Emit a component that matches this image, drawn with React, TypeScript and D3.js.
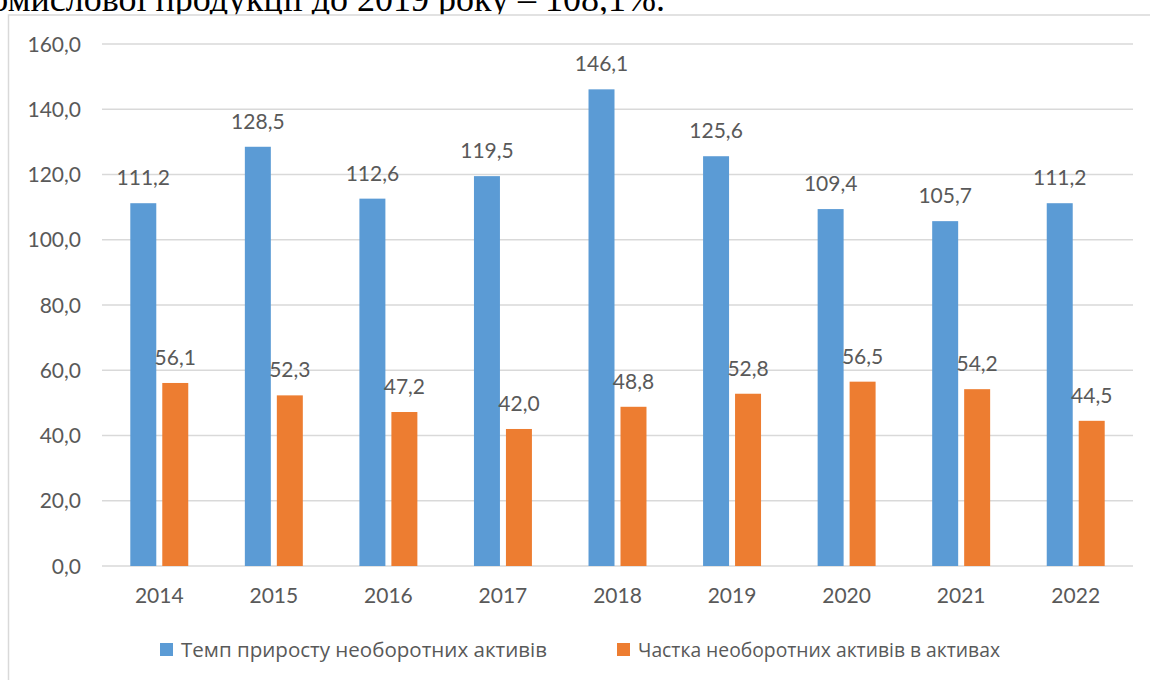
import React from "react";
import * as d3 from "d3";

const years = ["2014", "2015", "2016", "2017", "2018", "2019", "2020", "2021", "2022"];
const growthRate = [111.2, 128.5, 112.6, 119.5, 146.1, 125.6, 109.4, 105.7, 111.2];
const shareOfAssets = [56.1, 52.3, 47.2, 42.0, 48.8, 52.8, 56.5, 54.2, 44.5];
const seriesNames = ["Темп приросту необоротних активів", "Частка необоротних активів в активах"];
const seriesColors = ["#5b9bd5", "#ed7d31"];
const yTicks = [0, 20, 40, 60, 80, 100, 120, 140, 160];
const headerText = "промислової продукції до 2019 року – 108,1%.";

const fmt = (v: number) => v.toFixed(1).replace(".", ",");

export default function App() {
  const W = 1150;
  const H = 680;
  const plotLeft = 102;
  const plotRight = 1133;
  const plotTop = 44;
  const plotBottom = 566;

  const y = d3.scaleLinear().domain([0, 160]).range([plotBottom, plotTop]);
  const x0 = d3
    .scaleBand<string>()
    .domain(years)
    .range([plotLeft, plotRight])
    .paddingInner(0.494)
    .paddingOuter(0.247);
  const x1 = d3
    .scaleBand<string>()
    .domain(["a", "b"])
    .range([0, x0.bandwidth()])
    .paddingInner(0.1875);

  const series = [growthRate, shareOfAssets];
  const keys = ["a", "b"];
  const numFont = "Lato, 'Open Sans', sans-serif";
  const txtColor = "#595959";
  const legendX = [160, 617];
  const legendLen = [366, 362];

  return (
    <svg
      width={W}
      height={H}
      style={{ position: "absolute", left: 0, top: 0, background: "#fff" }}
    >
      <text
        x={665}
        y={10.5}
        textAnchor="end"
        fontFamily="'Liberation Serif', 'Times New Roman', serif"
        fontSize={36}
        fill="#000"
      >
        {headerText}
      </text>
      <rect x={8.5} y={15} width={1200} height={700} fill="#fff" stroke="#d9d9d9" strokeWidth={1.5} />

      {yTicks.map((t) => (
        <g key={t}>
          <line x1={plotLeft} x2={plotRight} y1={y(t)} y2={y(t)} stroke="#d9d9d9" strokeWidth={1.5} />
          <text
            x={81}
            y={y(t)}
            dy="0.36em"
            textAnchor="end"
            fontFamily={numFont}
            fontSize={21}
            fill={txtColor}
          >
            {fmt(t)}
          </text>
        </g>
      ))}

      {years.map((yr, i) => (
        <g key={yr} transform={`translate(${x0(yr)},0)`}>
          {series.map((s, si) => {
            const v = s[i];
            const bx = x1(keys[si])!;
            const bw = x1.bandwidth();
            return (
              <g key={si}>
                <rect x={bx} y={y(v)} width={bw} height={y(0) - y(v)} fill={seriesColors[si]} />
                <text
                  x={bx + bw / 2}
                  y={y(v) - 18}
                  textAnchor="middle"
                  fontFamily={numFont}
                  fontSize={21}
                  fill={txtColor}
                >
                  {fmt(v)}
                </text>
              </g>
            );
          })}
          <text
            x={x0.bandwidth() / 2}
            y={603}
            textAnchor="middle"
            fontFamily={numFont}
            fontSize={21}
            fill={txtColor}
          >
            {yr}
          </text>
        </g>
      ))}

      {seriesNames.map((name, i) => {
        const lx = legendX[i];
        return (
          <g key={name}>
            <rect x={lx} y={643} width={13} height={13} fill={seriesColors[i]} />
            <text
              x={lx + 21}
              y={657}
              fontFamily="'Open Sans', sans-serif"
              fontSize={20}
              textLength={legendLen[i]}
              lengthAdjust="spacingAndGlyphs"
              fill={txtColor}
            >
              {name}
            </text>
          </g>
        );
      })}
    </svg>
  );
}
